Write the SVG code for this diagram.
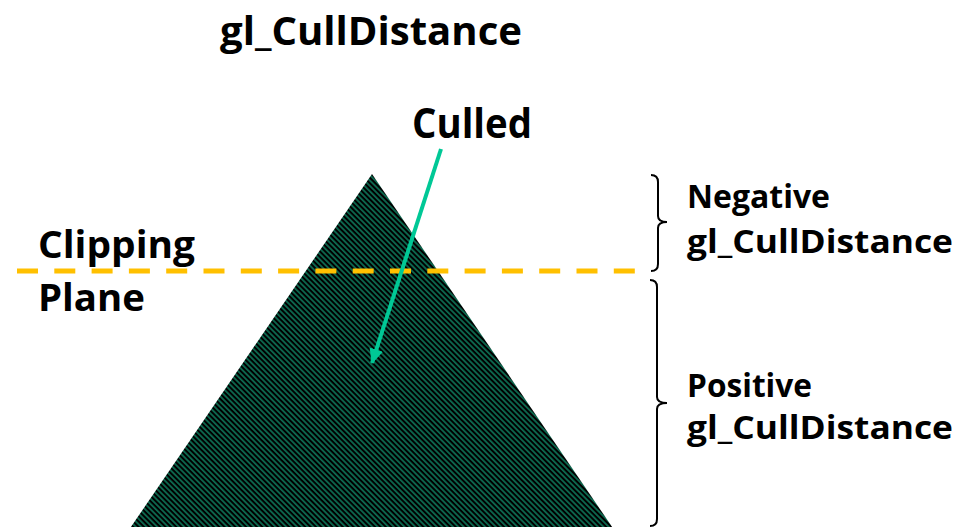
<svg xmlns="http://www.w3.org/2000/svg" width="960" height="527" viewBox="0 0 960 527">
<defs>
<pattern id="stripes" patternUnits="userSpaceOnUse" width="3.8" height="10" patternTransform="rotate(-45)">
<rect x="0" y="0" width="3.8" height="10" fill="#000"/>
<rect x="0" y="0" width="1.8" height="10" fill="#0d6a50"/>
</pattern>
<marker id="ah" markerUnits="userSpaceOnUse" markerWidth="16" markerHeight="16" viewBox="0 0 16 16" refX="14" refY="8" orient="auto">
<path d="M0,1 L15,8 L0,15 Z" fill="#00c896"/>
</marker>
<style>
text{font-family:"Open Sans","DejaVu Sans",sans-serif;font-weight:700;fill:#000}
.brace{fill:none;stroke:#000;stroke-width:2}
</style>
</defs>
<rect width="960" height="527" fill="#fff"/>
<g id="title"><text x="220" y="45" font-size="39" textLength="302" lengthAdjust="spacingAndGlyphs">gl_CullDistance</text></g>
<g id="triangle"><polygon points="372,174 621,540 122,540" fill="url(#stripes)"/></g>
<g id="clipping-plane">
<line x1="17" y1="271" x2="638" y2="271" stroke="#ffc000" stroke-width="5" stroke-dasharray="21 16.3"/>
<text x="38" y="258" font-size="37" textLength="157" lengthAdjust="spacingAndGlyphs">Clipping</text>
<text x="38" y="311" font-size="37" textLength="107" lengthAdjust="spacingAndGlyphs">Plane</text>
</g>
<g id="culled"><text x="412" y="138" font-size="41" textLength="120" lengthAdjust="spacingAndGlyphs">Culled</text></g>
<g id="negative">
<path class="brace" d="M651,175 Q658,175 658,182 L658,216 Q658,222 667,222 Q658,222 658,228 L658,264 Q658,271 651,271"/>
<text x="687" y="208" font-size="33" textLength="143" lengthAdjust="spacingAndGlyphs">Negative</text>
<text x="687" y="253" font-size="33" textLength="266" lengthAdjust="spacingAndGlyphs">gl_CullDistance</text>
</g>
<g id="positive">
<path class="brace" d="M650,280 Q657,280 657,287 L657,397 Q657,403 667,403 Q657,403 657,409 L657,519 Q657,526 650,526"/>
<text x="687" y="397" font-size="33" textLength="125" lengthAdjust="spacingAndGlyphs">Positive</text>
<text x="687" y="439" font-size="33" textLength="266" lengthAdjust="spacingAndGlyphs">gl_CullDistance</text>
</g>
<g id="connectors">
<line x1="441" y1="149" x2="372" y2="363" stroke="#00c896" stroke-width="4" marker-end="url(#ah)"/>
</g>
</svg>
